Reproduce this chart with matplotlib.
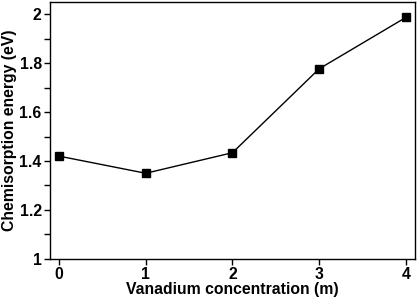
import numpy as np
import matplotlib.pyplot as plt
from matplotlib.ticker import MultipleLocator, FuncFormatter

# data
concentration = [0, 1, 2, 3, 4]
energy = [1.42, 1.35, 1.434, 1.777, 1.987]

plt.rcParams['font.family'] = ['Liberation Sans', 'DejaVu Sans']
plt.rcParams['font.weight'] = 'bold'

fig = plt.figure(figsize=(4.17, 3.0), dpi=100)
ax = fig.add_axes([0.12, 0.137, 0.875, 0.858])

ax.plot(concentration, energy, color='black', linewidth=1,
        marker='s', markersize=6, markerfacecolor='black')

ax.set_xlim(-0.104, 4.104)
ax.set_ylim(1.0, 2.052)
ax.set_xticks(concentration)
ax.yaxis.set_major_locator(MultipleLocator(0.2))
ax.yaxis.set_minor_locator(MultipleLocator(0.1))
ax.yaxis.set_major_formatter(FuncFormatter(lambda v, p: f'{v:g}'))
ax.tick_params(axis='both', which='major', labelsize=11.3, length=4, width=1, pad=2)
ax.tick_params(axis='y', which='minor', length=4, width=1)
for lab in ax.get_xticklabels() + ax.get_yticklabels():
    lab.set_fontweight('bold')

ax.set_xlabel('Vanadium concentration (m)', fontsize=11.3, fontweight='bold', labelpad=0)
ax.set_ylabel('Chemisorption energy (eV)', fontsize=11.3, fontweight='bold', labelpad=2)
for s in ax.spines.values():
    s.set_linewidth(1)

fig.savefig('out.png', dpi=100)
